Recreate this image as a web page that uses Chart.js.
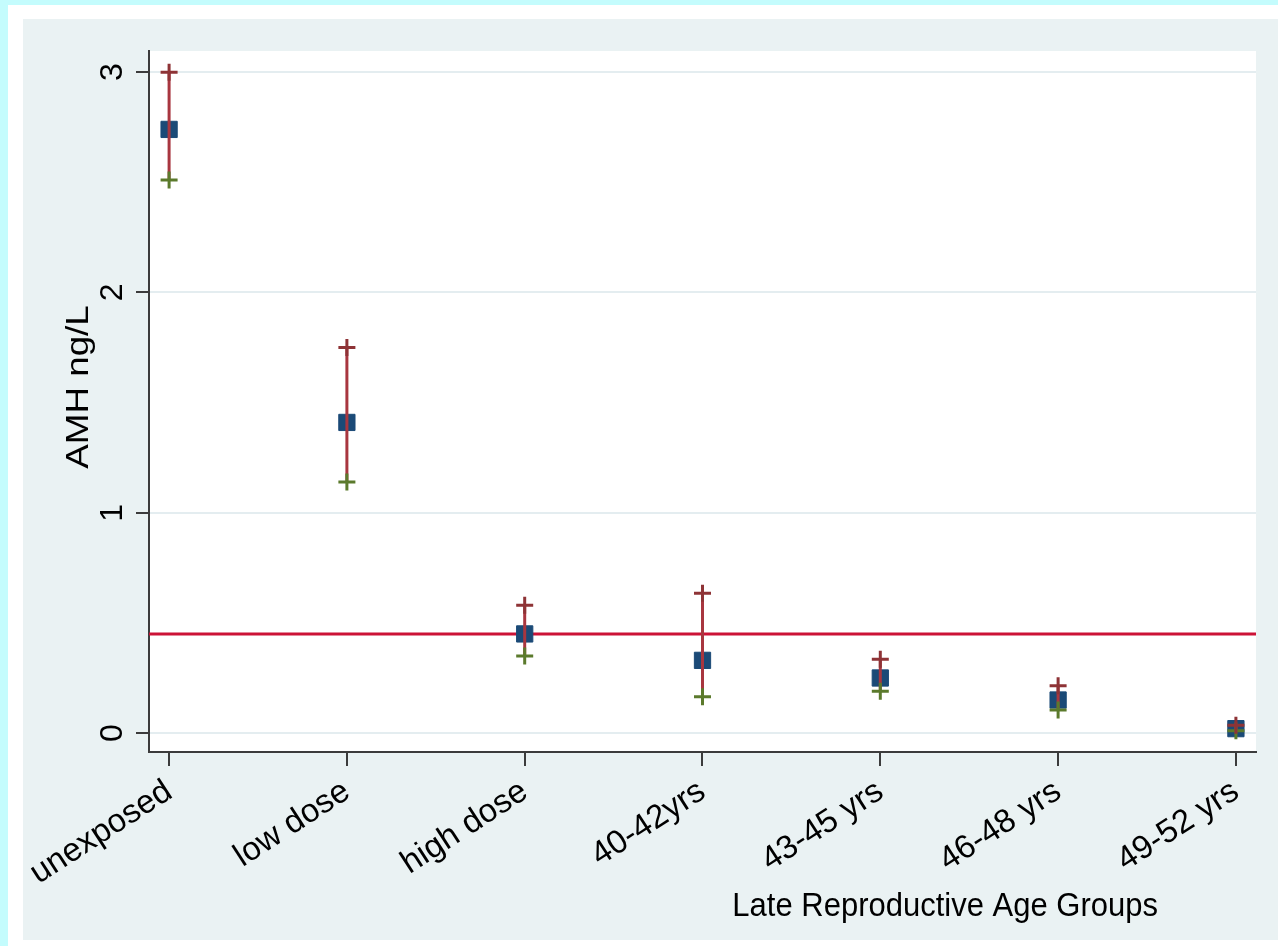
<!DOCTYPE html>
<html>
<head>
<meta charset="utf-8">
<script src="https://cdn.jsdelivr.net/npm/chart.js@4.4.1/dist/chart.umd.min.js"></script>
<style>
html,body{margin:0;padding:0;background:#c4fcfd;}
canvas{display:block;}
</style>
</head>
<body>
<canvas id="chart" width="1278" height="946"></canvas>
<script>
// values
const groups = ['unexposed', 'low dose', 'high dose', '40-42yrs', '43-45 yrs', '46-48 yrs', '49-52 yrs'];
const amhMean  = [2.74, 1.41, 0.45, 0.33, 0.25, 0.15, 0.02];
const ciUpper  = [3.00, 1.75, 0.58, 0.635, 0.335, 0.215, 0.035];
const ciLower  = [2.51, 1.14, 0.35, 0.165, 0.19, 0.105, 0.01];
const refLevel = 0.45;
const yTicks   = [0, 1, 2, 3];

const FONT = "'Liberation Sans', Arial, sans-serif";
const AXIS = '#3c3c3c';

const pts = arr => arr.map((v, i) => ({x: i, y: v}));

const deco = {
    id: 'deco',
    beforeDraw(c) {
        const g = c.ctx, a = c.chartArea;
        g.save();
        g.fillStyle = '#c4fcfd'; g.fillRect(0, 0, c.width, c.height);
        g.fillStyle = '#ffffff'; g.fillRect(8, 5, c.width - 8, c.height - 5);
        g.fillStyle = '#eaf2f3'; g.fillRect(23, 19, c.width - 23, c.height - 25);
        g.fillStyle = '#ffffff'; g.fillRect(a.left, a.top, a.right - a.left, a.bottom - a.top);
        g.restore();
    },
    beforeDatasetsDraw(c) {
        const g = c.ctx, a = c.chartArea, y = c.scales.y.getPixelForValue(refLevel);
        g.save();
        g.strokeStyle = '#cc1236'; g.lineWidth = 3;
        g.beginPath(); g.moveTo(a.left, y); g.lineTo(a.right, y); g.stroke();
        g.restore();
    },
    afterDatasetDraw(c, args) {
        if (args.index !== 2) return;
        const g = c.ctx, xs = c.scales.x, ys = c.scales.y;
        g.save();
        g.strokeStyle = '#a8363f'; g.lineWidth = 3;
        groups.forEach((_, i) => {
            const x = xs.getPixelForValue(i);
            g.beginPath();
            g.moveTo(x, ys.getPixelForValue(ciLower[i]));
            g.lineTo(x, ys.getPixelForValue(ciUpper[i]));
            g.stroke();
        });
        g.restore();
    },
    afterDraw(c) {
        const g = c.ctx, ys = c.scales.y, a = c.chartArea;
        g.save();
        g.fillStyle = '#000';
        g.textAlign = 'center'; g.textBaseline = 'alphabetic';
        g.font = '32px ' + FONT;
        yTicks.forEach(v => {
            g.save();
            g.translate(122, ys.getPixelForValue(v));
            g.rotate(-Math.PI / 2);
            g.fillText(String(v), 0, 0);
            g.restore();
        });
        // the source picture is slightly stretched vertically
        g.save();
        g.translate(88, 387);
        g.scale(1, 1.15);
        g.rotate(-Math.PI / 2);
        g.fillText('AMH ng/L', 0, 0);
        g.restore();
        g.save();
        g.font = '31px ' + FONT;
        g.textAlign = 'right';
        g.translate(a.right - 98, 916);
        g.scale(1, 1.1);
        g.fillText('Late Reproductive Age Groups', 0, 0);
        g.restore();
        g.restore();
    }
};

new Chart(document.getElementById('chart'), {
    type: 'scatter',
    data: {
        datasets: [
            {label: 'upper', data: pts(ciUpper), pointStyle: 'cross', pointRadius: 8.5,
             pointBorderWidth: 3, pointBorderColor: '#8e3336', showLine: false},
            {label: 'lower', data: pts(ciLower), pointStyle: 'cross', pointRadius: 8.5,
             pointBorderWidth: 3, pointBorderColor: '#5b7a2c', showLine: false},
            {label: 'mean', data: pts(amhMean), pointStyle: 'rect', pointRadius: 11.5,
             pointBorderWidth: 1, pointBackgroundColor: '#1b4a77', pointBorderColor: '#1b4a77', showLine: false}
        ]
    },
    options: {
        responsive: false,
        animation: false,
        events: [],
        layout: {padding: {top: 51, right: 22, left: 0, bottom: 0}},
        plugins: {legend: {display: false}, tooltip: {enabled: false}},
        scales: {
            x: {
                type: 'linear', min: -0.113, max: 6.113,
                afterBuildTicks: s => { s.ticks = groups.map((_, i) => ({value: i})); },
                afterFit: s => { s.height = 194; },
                ticks: {
                    autoSkip: false, minRotation: 33, maxRotation: 33, padding: 6,
                    color: '#000', font: {family: FONT, size: 33},
                    callback: (v, i) => groups[i]
                },
                grid: {drawOnChartArea: false, tickLength: 14, tickColor: AXIS, tickWidth: 2, lineWidth: 2, color: AXIS},
                border: {color: AXIS, width: 2}
            },
            y: {
                min: -0.086, max: 3.096,
                afterBuildTicks: s => { s.ticks = yTicks.map(v => ({value: v})); },
                afterFit: s => { s.width = 149; },
                ticks: {display: false},
                grid: {color: '#e4edf0', lineWidth: 2, tickLength: 13, tickColor: AXIS, tickWidth: 2},
                border: {color: AXIS, width: 2}
            }
        }
    },
    plugins: [deco]
});
</script>
</body>
</html>
